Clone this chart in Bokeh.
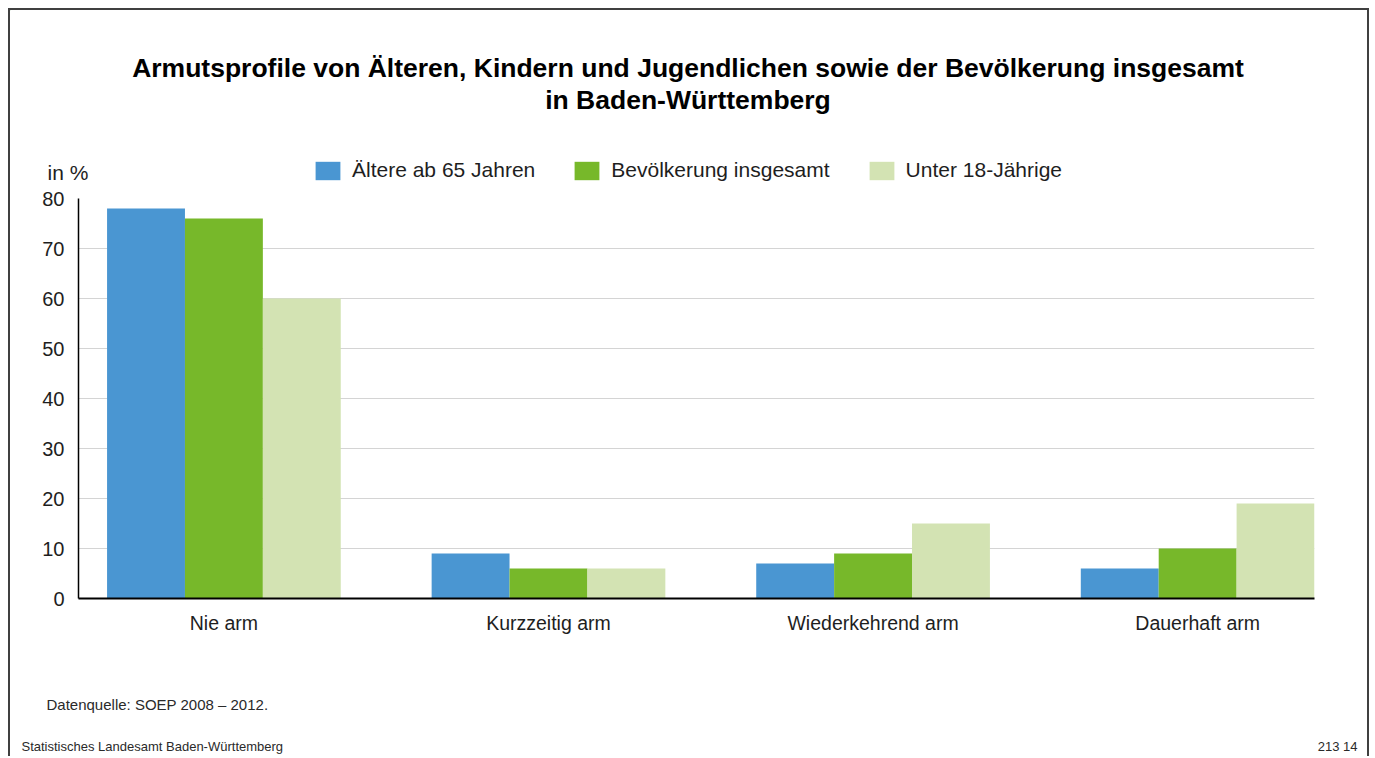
from bokeh.plotting import figure
from bokeh.layouts import column
from bokeh.models import (ColumnDataSource, Range1d, FixedTicker, SingleIntervalTicker,
                          Legend, LegendItem, Label)
from bokeh.transform import dodge
from bokeh.embed import file_html
from bokeh.resources import INLINE

# ---- data ----
categories = ["Nie arm", "Kurzzeitig arm", "Wiederkehrend arm", "Dauerhaft arm"]
series_names = ["Ältere ab 65 Jahren", "Bevölkerung insgesamt", "Unter 18-Jährige"]
aeltere = [78, 9, 7, 6]
bevoelkerung = [76, 6, 9, 10]
unter18 = [60, 6, 15, 19]
colors = ["#4a96d2", "#77b82a", "#d3e3b3"]

title_lines = ["Armutsprofile von Älteren, Kindern und Jugendlichen sowie der Bevölkerung insgesamt",
               "in Baden-Württemberg"]
unit_label = "in %"
source_note = "Datenquelle: SOEP 2008 – 2012."
publisher = "Statistisches Landesamt Baden-Württemberg"
chart_id = "213 14"

FONT = "Liberation Sans"
TXT = "#1e1e1e"
FOOT = "#2a2a2a"
W = 1357
FRAME_TOP = 10


def no_align(f):
    try:
        f.frame_align = False
    except Exception:
        pass


def bare(height):
    """A figure whose frame spans the canvas; coordinates are canvas pixels from top-left."""
    f = figure(width=W, height=height, output_backend="svg", toolbar_location=None,
               x_range=Range1d(0, W), y_range=Range1d(height, FRAME_TOP),
               x_axis_type=None, y_axis_type=None,
               min_border=0, min_border_left=0, min_border_right=0,
               min_border_top=0, min_border_bottom=0)
    f.outline_line_color = None
    f.xgrid.visible = False
    f.ygrid.visible = False
    try:
        f.title.visible = False
    except Exception:
        pass
    no_align(f)
    return f


def lab(f, text, x, y, size, align="left", bold=False, color=TXT):
    f.add_layout(Label(x=x, y=y, text=text, text_font=FONT, text_font_size=size,
                       text_align=align, text_baseline="alphabetic",
                       text_font_style="bold" if bold else "normal",
                       text_color=color))


# ---------------- header: title, unit, legend ----------------
top = bare(178)
lab(top, title_lines[0], 677.5, 64, "26.5px", "center", True, "black")
lab(top, title_lines[1], 677.5, 94, "26.5px", "center", True, "black")
lab(top, unit_label, 37, 163, "21px")

# legend proxies (one off-screen bar per series, used only for the legend swatch)
swatches = [top.vbar(x=[-500], top=[-500], bottom=[-501], width=1, fill_color=c, line_color=None)
            for c in colors]
legend = Legend(items=[LegendItem(label=n, renderers=[r]) for n, r in zip(series_names, swatches)],
                orientation="horizontal", location=(302, 6),
                padding=0, margin=0, spacing=36, label_standoff=9,
                glyph_width=31, glyph_height=23,
                label_text_font=FONT, label_text_font_size="21px",
                label_text_color=TXT, border_line_color=None,
                background_fill_alpha=0)
top.add_layout(legend, "center")

# ---------------- main chart ----------------
idx = list(range(len(categories)))
src = ColumnDataSource(dict(x=idx, a=aeltere, b=bevoelkerung, c=unter18))

p = figure(width=W, height=462, output_backend="svg", toolbar_location=None,
           x_range=Range1d(-0.448, 3.36), y_range=Range1d(0, 80),
           min_border_left=68, min_border_right=53, min_border_top=10, min_border_bottom=52)
p.outline_line_color = None
no_align(p)

w = 0.24
for col, off, color in zip(["a", "b", "c"], [-w, 0, w], colors):
    p.vbar(x=dodge("x", off, range=p.x_range), top=col, width=w, bottom=0,
           source=src, fill_color=color, line_color=None)

p.xaxis.ticker = FixedTicker(ticks=idx)
p.xaxis.major_label_overrides = {i: c for i, c in zip(idx, categories)}
p.xaxis.major_tick_line_color = None
p.xaxis.major_tick_out = 0
p.xaxis.minor_tick_line_color = None
p.xaxis.axis_line_color = "black"
p.xaxis.axis_line_width = 2
p.xaxis.major_label_text_font = FONT
p.xaxis.major_label_text_font_size = "19.5px"
p.xaxis.major_label_text_color = TXT
p.xaxis.major_label_standoff = 13

p.yaxis.ticker = SingleIntervalTicker(interval=10)
p.yaxis.major_tick_line_color = None
p.yaxis.major_tick_out = 0
p.yaxis.minor_tick_line_color = None
p.yaxis.axis_line_color = "black"
p.yaxis.axis_line_width = 1.5
p.yaxis.major_label_text_font = FONT
p.yaxis.major_label_text_font_size = "20px"
p.yaxis.major_label_text_color = TXT
p.yaxis.major_label_standoff = 10

p.xgrid.grid_line_color = None
p.ygrid.grid_line_color = "#d4d4d4"
p.ygrid.grid_line_width = 1

# ---------------- footer ----------------
bottom = bare(106)
lab(bottom, source_note, 36, 59, "15px", color=FOOT)
lab(bottom, publisher, 11, 97, "13px", color=FOOT)
lab(bottom, chart_id, 1347, 97, "13px", "right", color=FOOT)

page = column(top, p, bottom, spacing=0,
              styles={"margin-left": "8px", "margin-top": "8px",
                      "border-left": "2px solid #404040", "border-top": "2px solid #404040",
                      "border-right": "2px solid #404040"})

open("out.html", "w").write(file_html(page, INLINE))
